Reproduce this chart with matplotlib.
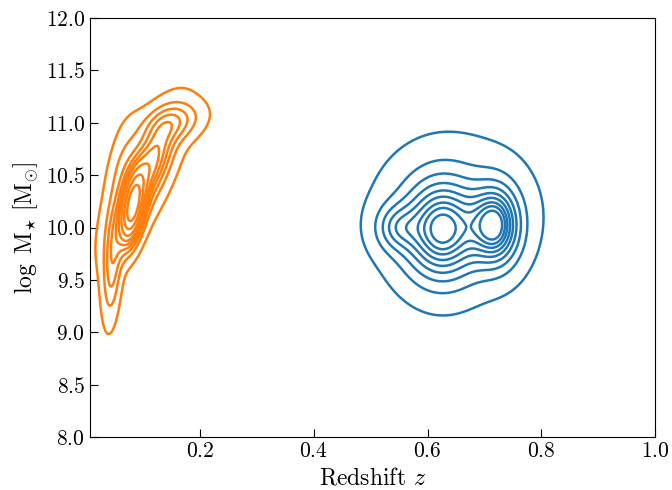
import numpy as np
import matplotlib
matplotlib.use('Agg')
import matplotlib.pyplot as plt

plt.rcParams['font.family'] = 'serif'
plt.rcParams['font.serif'] = ['cmr10']
plt.rcParams['mathtext.fontset'] = 'cm'
plt.rcParams['axes.formatter.use_mathtext'] = True
plt.rcParams['axes.unicode_minus'] = False

# gaussian components: z, logM, sig_z, sig_m, rho, weight
low_z   = [0.082, 0.115, 0.100, 0.150, 0.046, 0.065]
low_m   = [10.20, 10.62, 10.45, 11.00, 9.65, 10.65]
low_sz  = [0.014, 0.022, 0.045, 0.035, 0.011, 0.018]
low_sm  = [0.22, 0.22, 0.45, 0.13, 0.35, 0.25]
low_rho = [0.45, 0.60, 0.75, 0.30, 0.30, 0.50]
low_w   = [0.33, 0.14, 0.28, 0.10, 0.09, 0.04]

high_z   = [0.625, 0.720, 0.650, 0.545]
high_m   = [9.97, 10.02, 10.15, 10.00]
high_sz  = [0.045, 0.028, 0.085, 0.025]
high_sm  = [0.32, 0.25, 0.42, 0.15]
high_rho = [0.0, 0.0, 0.0, 0.0]
high_w   = [0.50, 0.24, 0.28, 0.05]

xlim = (0.007, 1.0)
ylim = (8.0, 12.0)


def density(X, Y, zc, mc, sz, sm, rho, w):
	D = np.zeros_like(X)
	for a, b, s1, s2, r, ww in zip(zc, mc, sz, sm, rho, w):
		u = (X - a) / s1
		v = (Y - b) / s2
		q = (u**2 - 2*r*u*v + v**2) / (1 - r**2)
		D += ww * np.exp(-0.5*q) / (2*np.pi*s1*s2*np.sqrt(1 - r**2))
	return D


def iso_levels(D, n=10, thresh=0.05):
	# same iso-proportion levels as seaborn kdeplot
	props = np.linspace(thresh, 1, n)
	vals = np.sort(D.ravel())[::-1]
	cum = np.cumsum(vals) / vals.sum()
	idx = np.searchsorted(cum, 1 - props)
	lev = np.take(vals, idx, mode='clip')
	return np.unique(lev)


gx = np.linspace(-0.1, 1.1, 600)
gy = np.linspace(7.5, 12.5, 600)
X, Y = np.meshgrid(gx, gy)

fig = plt.figure(figsize=(6.72, 4.9), dpi=100)
ax = fig.add_axes([0.134, 0.108, 0.841, 0.855])

D_low = density(X, Y, low_z, low_m, low_sz, low_sm, low_rho, low_w)
D_high = density(X, Y, high_z, high_m, high_sz, high_sm, high_rho, high_w)

ax.contour(X, Y, D_high, levels=iso_levels(D_high), colors='#1f77b4', linewidths=1.8)
ax.contour(X, Y, D_low, levels=iso_levels(D_low), colors='#ff7f0e', linewidths=1.8)

ax.set_xlim(xlim)
ax.set_ylim(ylim)
ax.set_xticks([0.2, 0.4, 0.6, 0.8, 1.0])
ax.set_yticks(np.arange(8.0, 12.01, 0.5))
ax.tick_params(direction='in', length=6, labelsize=15.5)
ax.set_xlabel(r'Redshift $z$', fontsize=17)
ax.set_ylabel(r'$\log\ \mathrm{M}_{\star}\ [\mathrm{M}_{\odot}]$', fontsize=17)

fig.savefig('out.png', dpi=100)
